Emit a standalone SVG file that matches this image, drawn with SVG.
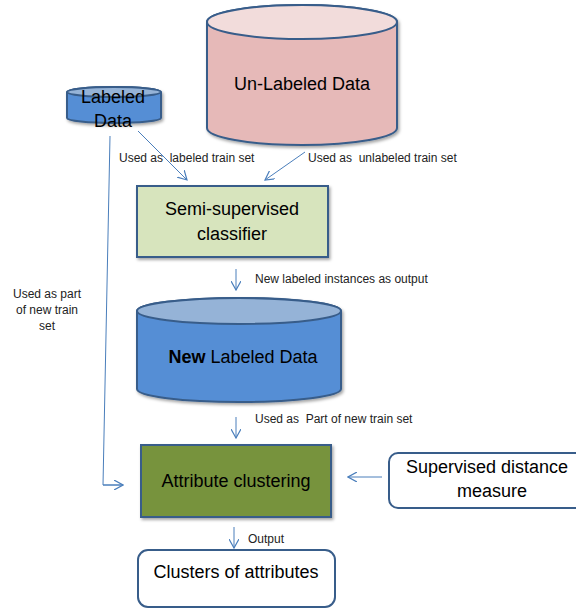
<svg xmlns="http://www.w3.org/2000/svg" width="576" height="610" viewBox="0 0 576 610">
  <defs>
    <filter id="shadow" x="-10%" y="-10%" width="125%" height="130%">
      <feDropShadow dx="1.5" dy="2" stdDeviation="1.5" flood-color="#000" flood-opacity="0.35"/>
    </filter>
    <marker id="arrow" viewBox="0 0 10 10" refX="9" refY="5" markerWidth="10" markerHeight="10" markerUnits="userSpaceOnUse" orient="auto">
      <path d="M0,0 L9,5 L0,10" fill="none" stroke="#4a7ebb" stroke-width="1.2"/>
    </marker>
    <style>
      .node { font-family: "Liberation Sans", Arial, sans-serif; font-size: 18px; fill: #000; }
      .mid { text-anchor: middle; }
      .lbl { font-family: "Liberation Sans", Arial, sans-serif; font-size: 12px; fill: #222; white-space: pre; }
      .edge { stroke: #4a7ebb; stroke-width: 1; fill: none; marker-end: url(#arrow); }
      .edge-plain { stroke: #4a7ebb; stroke-width: 1; fill: none; }
      .blue-body { fill: #558ed5; stroke: #385d8a; stroke-width: 2; }
      .blue-top { fill: #95b3d7; stroke: #385d8a; stroke-width: 2; }
      .pink-body { fill: #e6b9b8; stroke: #385d8a; stroke-width: 2; }
      .pink-top { fill: #f2dcdb; stroke: #385d8a; stroke-width: 2; }
      .box { stroke: #385d8a; stroke-width: 2; }
    </style>
  </defs>

  <rect width="576" height="610" fill="#fff"/>

  <!-- Un-Labeled Data cylinder -->
  <g id="unlabeled-data">
    <path class="pink-body" filter="url(#shadow)" d="M207,22 V128 A95,17 0 0 0 397,128 V22 A95,17 0 0 0 207,22 Z"/>
    <ellipse class="pink-top" cx="302" cy="22" rx="95" ry="17"/>
    <text class="node mid" x="302" y="90">Un-Labeled Data</text>
  </g>

  <!-- Labeled Data cylinder -->
  <g id="labeled-data">
    <path class="blue-body" filter="url(#shadow)" d="M67,92 V118 A47,5 0 0 0 161,118 V92 A47,5 0 0 0 67,92 Z"/>
    <ellipse class="blue-top" cx="114" cy="92" rx="47" ry="5"/>
    <text class="node mid" x="113" y="103">Labeled</text>
    <text class="node mid" x="113" y="127">Data</text>
  </g>

  <!-- Semi-supervised classifier -->
  <g id="semi-supervised-classifier">
    <rect class="box" x="137" y="186" width="191" height="71" fill="#d7e4bd" filter="url(#shadow)"/>
    <text class="node mid" x="232" y="215">Semi-supervised</text>
    <text class="node mid" x="232" y="240">classifier</text>
  </g>

  <!-- New Labeled Data cylinder -->
  <g id="new-labeled-data">
    <path class="blue-body" filter="url(#shadow)" d="M137,311 V389 A102,13 0 0 0 341,389 V311 A102,13 0 0 0 137,311 Z"/>
    <ellipse class="blue-top" cx="239" cy="311" rx="102" ry="13"/>
    <text class="node mid" x="243" y="363"><tspan font-weight="bold">New</tspan> Labeled Data</text>
  </g>

  <!-- Attribute clustering -->
  <g id="attribute-clustering">
    <rect class="box" x="141" y="445" width="190" height="72" fill="#77933c" filter="url(#shadow)"/>
    <text class="node mid" x="236" y="487">Attribute clustering</text>
  </g>

  <!-- Supervised distance measure -->
  <g id="supervised-distance-measure">
    <rect class="box" x="389" y="453" width="210" height="55" rx="9" fill="#fff"/>
    <text class="node" x="406" y="473">Supervised distance</text>
    <text class="node mid" x="492" y="497">measure</text>
  </g>

  <!-- Clusters of attributes -->
  <g id="clusters-of-attributes">
    <rect class="box" x="138" y="550" width="197" height="57" rx="10" fill="#fff"/>
    <text class="node mid" x="236" y="578">Clusters of attributes</text>
  </g>

  <!-- Connectors -->
  <g id="connectors">
    <line class="edge" x1="138" y1="131" x2="187" y2="180"/>
    <line class="edge" x1="305" y1="152" x2="265" y2="180"/>
    <line class="edge" x1="236" y1="269" x2="236" y2="290"/>
    <line class="edge" x1="236" y1="417" x2="236" y2="438"/>
    <line class="edge" x1="382" y1="477" x2="348" y2="477"/>
    <line class="edge" x1="234" y1="527" x2="234" y2="548"/>
    <polyline class="edge-plain" points="110,136 103,485 122,485"/>
    <line class="edge" x1="103" y1="485" x2="123" y2="485"/>
  </g>

  <!-- Connector labels -->
  <g id="connector-labels">
    <text class="lbl" x="119" y="162">Used as  labeled train set</text>
    <text class="lbl" x="308" y="162">Used as  unlabeled train set</text>
    <text class="lbl" x="255" y="283">New labeled instances as output</text>
    <text class="lbl" x="255" y="423">Used as  Part of new train set</text>
    <text class="lbl" x="248" y="543">Output</text>
    <text class="lbl mid" x="47" y="298">Used as part</text>
    <text class="lbl mid" x="47" y="314">of new train</text>
    <text class="lbl mid" x="47" y="330">set</text>
  </g>
</svg>
